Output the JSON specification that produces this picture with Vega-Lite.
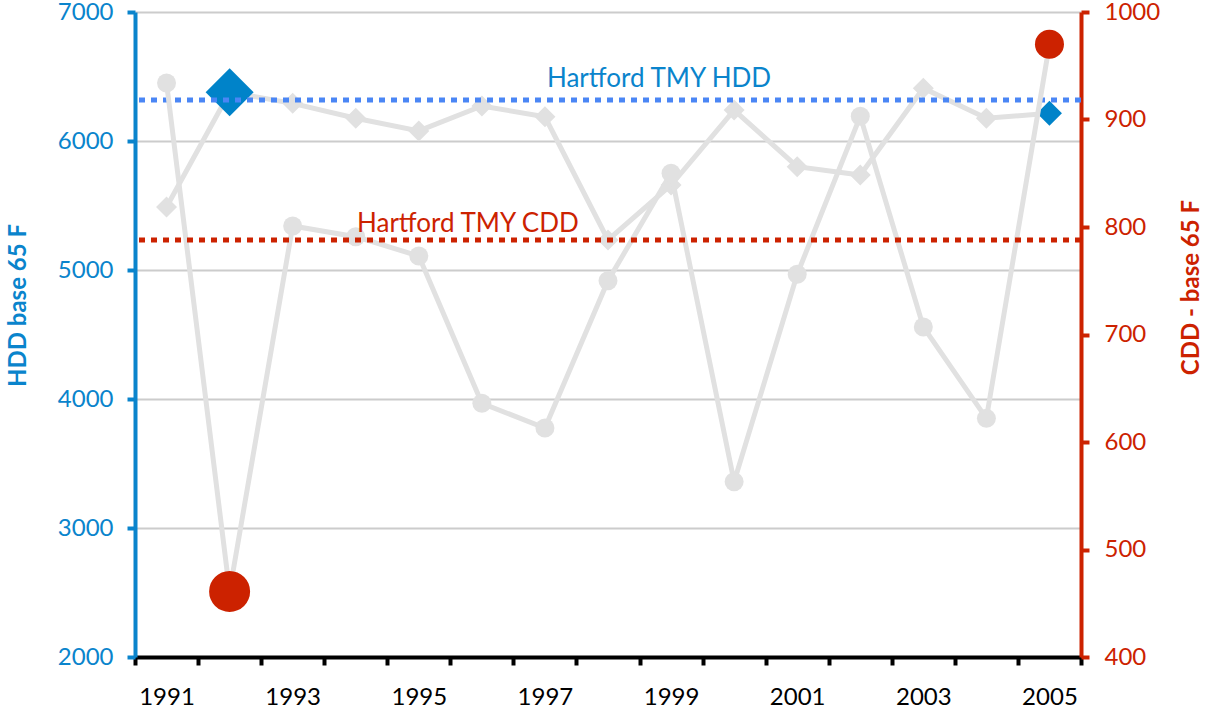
{
  "$schema": "https://vega.github.io/schema/vega-lite/v6.json",
  "width": 946,
  "height": 645,
  "autosize": {"type": "none"},
  "padding": {"left": 135, "top": 12, "right": 126, "bottom": 59},
  "background": "white",
  "config": {"view": {"stroke": null}, "font": "Lato"},
  "data": {
    "values": [
      {"year": 1991, "hdd": 5488, "cdd": 934},
      {"year": 1992, "hdd": 6378, "cdd": 461},
      {"year": 1993, "hdd": 6292, "cdd": 801},
      {"year": 1994, "hdd": 6176, "cdd": 791},
      {"year": 1995, "hdd": 6078, "cdd": 773},
      {"year": 1996, "hdd": 6271, "cdd": 636},
      {"year": 1997, "hdd": 6188, "cdd": 613},
      {"year": 1998, "hdd": 5233, "cdd": 750},
      {"year": 1999, "hdd": 5659, "cdd": 850},
      {"year": 2000, "hdd": 6240, "cdd": 563},
      {"year": 2001, "hdd": 5801, "cdd": 756},
      {"year": 2002, "hdd": 5736, "cdd": 903},
      {"year": 2003, "hdd": 6409, "cdd": 707},
      {"year": 2004, "hdd": 6176, "cdd": 622},
      {"year": 2005, "hdd": 6215, "cdd": 970}
    ]
  },
  "layer": [
    {
      "layer": [
        {
          "mark": {"type": "line", "color": "#e1e1e1", "strokeWidth": 5},
          "encoding": {
            "x": {
              "field": "year", "type": "ordinal",
              "scale": {"type": "band", "paddingInner": 0, "paddingOuter": 0},
              "axis": {
                "title": null, "labelAngle": 0, "tickBand": "extent",
                "domainColor": "black", "domainWidth": 4,
                "tickColor": "black", "tickWidth": 4, "tickSize": 8,
                "labelFontSize": 24, "labelColor": "black", "labelPadding": 20,
                "labelExpr": "datum.value % 2 == 1 ? datum.label : ''",
                "grid": false
              }
            },
            "y": {
              "field": "hdd", "type": "quantitative",
              "scale": {"domain": [2000, 7000], "nice": false, "zero": false},
              "axis": {
                "title": "HDD base 65 F", "orient": "left",
                "values": [2000, 3000, 4000, 5000, 6000, 7000], "format": "d",
                "grid": true, "gridColor": "#cccccc", "gridWidth": 2,
                "domainColor": "#0a84cc", "domainWidth": 4,
                "tickColor": "#0a84cc", "tickWidth": 4, "tickSize": 8,
                "labelColor": "#0a84cc", "labelFontSize": 24, "labelPadding": 14,
                "titleColor": "#0a84cc", "titleFontSize": 24, "titleFontWeight": "bold",
                "titleAngle": -90, "titleBaseline": "middle", "titleAlign": "center",
                "titleX": -117, "titleY": 293
              }
            }
          }
        },
        {
          "mark": {"type": "point", "shape": "diamond", "filled": true, "opacity": 1, "color": "#e1e1e1", "size": 441},
          "encoding": {
            "x": {"field": "year", "type": "ordinal"},
            "y": {"field": "hdd", "type": "quantitative"}
          }
        },
        {
          "transform": [{"filter": "datum.year == 1992"}],
          "mark": {"type": "point", "shape": "diamond", "filled": true, "opacity": 1, "color": "#0083c9", "size": 2304},
          "encoding": {
            "x": {"field": "year", "type": "ordinal"},
            "y": {"field": "hdd", "type": "quantitative"}
          }
        },
        {
          "transform": [{"filter": "datum.year == 2005"}],
          "mark": {"type": "point", "shape": "diamond", "filled": true, "opacity": 1, "color": "#0083c9", "size": 625},
          "encoding": {
            "x": {"field": "year", "type": "ordinal"},
            "y": {"field": "hdd", "type": "quantitative"}
          }
        },
        {
          "data": {"values": [{"name": "Hartford TMY HDD", "hdd": 6318, "year": 1999}]},
          "layer": [
            {
              "mark": {"type": "rule", "color": "#4a86f5", "strokeWidth": 5, "strokeDash": [6, 6]},
              "encoding": {"y": {"field": "hdd", "type": "quantitative"}}
            },
            {
              "mark": {"type": "text", "fontSize": 26, "fontWeight": "normal", "color": "#0a84cc", "dx": -12, "dy": -13, "baseline": "alphabetic", "align": "center"},
              "encoding": {
                "x": {"field": "year", "type": "ordinal"},
                "y": {"field": "hdd", "type": "quantitative"},
                "text": {"field": "name"}
              }
            }
          ]
        }
      ]
    },
    {
      "layer": [
        {
          "mark": {"type": "line", "color": "#e1e1e1", "strokeWidth": 5},
          "encoding": {
            "x": {"field": "year", "type": "ordinal"},
            "y": {
              "field": "cdd", "type": "quantitative",
              "scale": {"domain": [400, 1000], "nice": false, "zero": false},
              "axis": {
                "title": "CDD - base 65 F", "orient": "right",
                "values": [400, 500, 600, 700, 800, 900, 1000], "format": "d",
                "grid": false,
                "domainColor": "#cc2200", "domainWidth": 4,
                "tickColor": "#cc2200", "tickWidth": 4, "tickSize": 8,
                "labelColor": "#cc2200", "labelFontSize": 24, "labelPadding": 15,
                "titleColor": "#cc2200", "titleFontSize": 24, "titleFontWeight": "bold",
                "titleAngle": -90, "titleBaseline": "middle", "titleAlign": "center",
                "titleX": 110, "titleY": 275
              }
            }
          }
        },
        {
          "mark": {"type": "point", "shape": "circle", "filled": true, "opacity": 1, "color": "#e1e1e1", "size": 361},
          "encoding": {
            "x": {"field": "year", "type": "ordinal"},
            "y": {"field": "cdd", "type": "quantitative"}
          }
        },
        {
          "transform": [{"filter": "datum.year == 1992"}],
          "mark": {"type": "point", "shape": "circle", "filled": true, "opacity": 1, "color": "#cc2200", "size": 1681},
          "encoding": {
            "x": {"field": "year", "type": "ordinal"},
            "y": {"field": "cdd", "type": "quantitative"}
          }
        },
        {
          "transform": [{"filter": "datum.year == 2005"}],
          "mark": {"type": "point", "shape": "circle", "filled": true, "opacity": 1, "color": "#cc2200", "size": 841},
          "encoding": {
            "x": {"field": "year", "type": "ordinal"},
            "y": {"field": "cdd", "type": "quantitative"}
          }
        },
        {
          "data": {"values": [{"name": "Hartford TMY CDD", "cdd": 788, "year": 1996}]},
          "layer": [
            {
              "mark": {"type": "rule", "color": "#cc2200", "strokeWidth": 5, "strokeDash": [6, 6]},
              "encoding": {"y": {"field": "cdd", "type": "quantitative"}}
            },
            {
              "mark": {"type": "text", "fontSize": 26, "fontWeight": "normal", "color": "#cc2200", "dx": -14, "dy": -8, "baseline": "alphabetic", "align": "center"},
              "encoding": {
                "x": {"field": "year", "type": "ordinal"},
                "y": {"field": "cdd", "type": "quantitative"},
                "text": {"field": "name"}
              }
            }
          ]
        }
      ]
    }
  ],
  "resolve": {"scale": {"y": "independent"}}
}
